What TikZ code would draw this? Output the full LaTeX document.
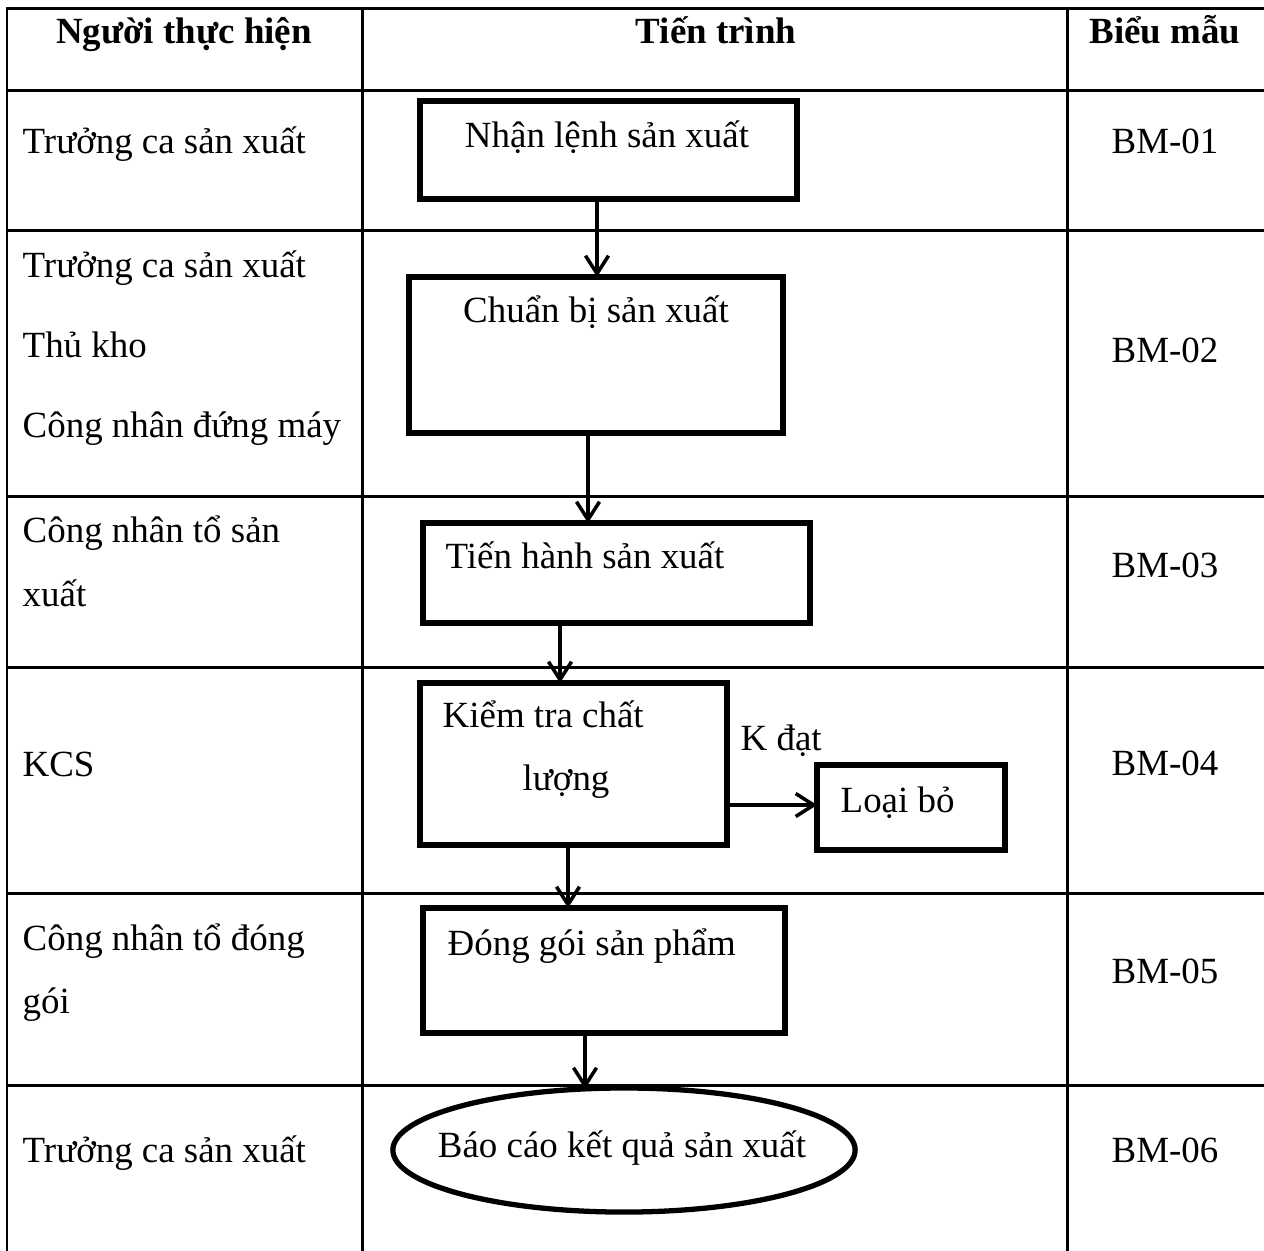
\documentclass[tikz,border=0pt]{standalone}
\usepackage{fontspec}
\setmainfont{Liberation Serif}
\usetikzlibrary{arrows.meta,shapes.geometric}
\begin{document}
\begin{tikzpicture}[x=0.01cm,y=-0.01cm,
  grid/.style={line width=0.85pt},
  box/.style={draw,line width=1.5pt,rectangle,inner sep=0pt,outer sep=0pt},
  oval/.style={draw,line width=1.5pt,ellipse,inner sep=0pt,outer sep=0pt},
  arr/.style={line width=1pt,-{Straight Barb[length=1.8mm,width=2.3mm,line width=1pt]}},
  txt/.style={inner sep=0pt,anchor=base west,font=\fontsize{10.5}{12}\selectfont},
  ctxt/.style={inner sep=0pt,anchor=base,font=\fontsize{10.5}{12}\selectfont},
  htxt/.style={inner sep=0pt,anchor=base,font=\fontsize{10.5}{12}\selectfont\bfseries}]
\useasboundingbox (0,0) rectangle (1264,1250);
\fill[white] (0,0) rectangle (1264,1250);
% table grid
\draw[grid] (7,1255) -- (7,8) -- (1270,8);
\draw[grid] (362,8) -- (362,1255);
\draw[grid] (1067,8) -- (1067,1255);
\foreach \yy in {90,230,496,667,893,1085}{\draw[grid] (7,\yy) -- (1270,\yy);}
% headers
\node[htxt] (h1) at (184,43) {Người thực hiện};
\node[htxt] (h2) at (716,43) {Tiến trình};
\node[htxt] (h3) at (1165,43) {Biểu mẫu};
% left column
\node[txt] (p1) at (22,153) {Trưởng ca sản xuất};
\node[txt] (p2a) at (22,277) {Trưởng ca sản xuất};
\node[txt] (p2b) at (22,357) {Thủ kho};
\node[txt] (p2c) at (22,437) {Công nhân đứng máy};
\node[txt] (p3a) at (22,542) {Công nhân tổ sản};
\node[txt] (p3b) at (22,606) {xuất};
\node[txt] (p4) at (22,776) {KCS};
\node[txt] (p5a) at (22,950) {Công nhân tổ đóng};
\node[txt] (p5b) at (22,1013) {gói};
\node[txt] (p6) at (22,1162) {Trưởng ca sản xuất};
% right column
\node[ctxt] (f1) at (1165,153) {BM-01};
\node[ctxt] (f2) at (1165,362) {BM-02};
\node[ctxt] (f3) at (1165,577) {BM-03};
\node[ctxt] (f4) at (1165,775) {BM-04};
\node[ctxt] (f5) at (1165,983) {BM-05};
\node[ctxt] (f6) at (1165,1162) {BM-06};
% process boxes
\node[box,minimum width=3.77cm,minimum height=0.98cm] (b1) at (608.5,150) {};
\node[box,minimum width=3.74cm,minimum height=1.56cm] (b2) at (596,355) {};
\node[box,minimum width=3.87cm,minimum height=1.00cm] (b3) at (616.5,573) {};
\node[box,minimum width=3.07cm,minimum height=1.62cm] (b4) at (573.5,764) {};
\node[box,minimum width=1.88cm,minimum height=0.85cm] (b5) at (911,807.5) {};
\node[box,minimum width=3.62cm,minimum height=1.25cm] (b6) at (604,970.5) {};
\node[oval,minimum width=4.62cm,minimum height=1.24cm] (e1) at (624,1150) {};
\coordinate (e1top) at (585,1089);
% box texts
\node[ctxt] (t1) at (607,147) {Nhận lệnh sản xuất};
\node[ctxt] (t2) at (596,322) {Chuẩn bị sản xuất};
\node[txt] (t3) at (445,568) {Tiến hành sản xuất};
\node[txt] (t4a) at (442,727) {Kiểm tra chất};
\node[txt] (t4b) at (522,790) {lượng};
\node[txt] (t5) at (840,812) {Loại bỏ};
\node[txt] (t6) at (447,955) {Đóng gói sản phẩm};
\node[ctxt] (t7) at (622,1157) {Báo cáo kết quả sản xuất};
\node[txt] (k) at (740,750) {K đạt};
% arrows
\draw[arr] (597,0 |- b1.south) -- (597,0 |- b2.north);
\draw[arr] (588,0 |- b2.south) -- (588,0 |- b3.north);
\draw[arr] (560,0 |- b3.south) -- (560,0 |- b4.north);
\draw[arr] (0,805 -| b4.east) -- (0,805 -| b5.west);
\draw[arr] (568,0 |- b4.south) -- (568,0 |- b6.north);
\draw[arr] (585,0 |- b6.south) -- (e1top);
\end{tikzpicture}
\end{document}
